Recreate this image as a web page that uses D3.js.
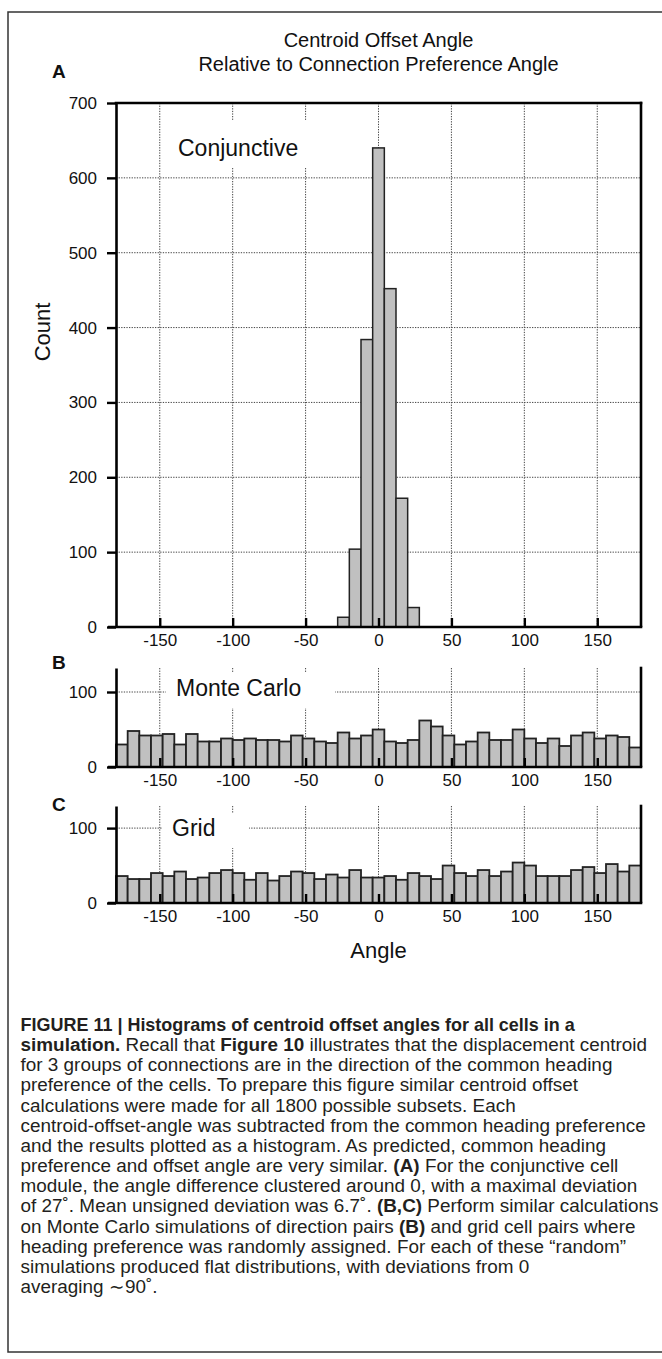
<!DOCTYPE html>
<html><head><meta charset="utf-8">
<script src="https://cdn.jsdelivr.net/npm/d3@7"></script>
<style>body{margin:0;background:#fff}svg{display:block}</style>
</head><body>
<svg id="fig" width="662" height="1359"></svg>
<script>
// ---------- data ----------
const binCenters = [-176,-168,-160,-152,-144,-136,-128,-120,-112,-104,-96,-88,-80,-72,-64,-56,-48,-40,-32,-24,-16,-8,0,8,16,24,32,40,48,56,64,72,80,88,96,104,112,120,128,136,144,152,160,168,176];
const binWidth = 8;
const conjunctive = [0,0,0,0,0,0,0,0,0,0,0,0,0,0,0,0,0,0,0,13,104,384,640,452,172,26,0,0,0,0,0,0,0,0,0,0,0,0,0,0,0,0,0,0,0];
const monteCarlo = [30,48,42,42,44,30,44,34,34,38,36,38,36,36,34,42,38,34,32,46,38,42,50,34,32,36,62,54,42,30,34,46,36,36,50,38,32,38,28,42,46,38,42,40,26];
const gridCells = [36,32,32,40,36,42,32,34,40,44,40,31,40,30,36,42,40,32,38,34,44,34,34,36,31,40,36,32,50,40,36,44,36,42,54,50,36,36,36,44,48,40,52,42,50];
const xTicks = [-150,-100,-50,0,50,100,150];
const yTicksA = [0,100,200,300,400,500,600,700];
const yTicksBC = [0,100];
const titleLines = ["Centroid Offset Angle","Relative to Connection Preference Angle"];
const captionLines = [
  [["FIGURE 11 | Histograms of centroid offset angles for all cells in a",1]],
  [["simulation.",1],[" Recall that ",0],["Figure 10",1],[" illustrates that the displacement centroid",0]],
  [["for 3 groups of connections are in the direction of the common heading",0]],
  [["preference of the cells. To prepare this figure similar centroid offset",0]],
  [["calculations were made for all 1800 possible subsets. Each",0]],
  [["centroid-offset-angle was subtracted from the common heading preference",0]],
  [["and the results plotted as a histogram. As predicted, common heading",0]],
  [["preference and offset angle are very similar. ",0],["(A)",1],[" For the conjunctive cell",0]],
  [["module, the angle difference clustered around 0, with a maximal deviation",0]],
  [["of 27\u02DA. Mean unsigned deviation was 6.7\u02DA. ",0],["(B,C)",1],[" Perform similar calculations",0]],
  [["on Monte Carlo simulations of direction pairs ",0],["(B)",1],[" and grid cell pairs where",0]],
  [["heading preference was randomly assigned. For each of these \u201Crandom\u201D",0]],
  [["simulations produced flat distributions, with deviations from 0",0]],
  [["averaging \u223C90\u02DA.",0]]
];
// right ends of the longest caption lines (used to set the common condensation)
const captionFitLines = [5,8,9,10];
const captionFitEnds = [649,642,653,634];
const captionHeadEnd = 575;

// ---------- layout ----------
const FONT = "'Liberation Sans', Arial, Helvetica, sans-serif";
const svg = d3.select("#fig");
svg.append("rect").attr("width",662).attr("height",1359).attr("fill","#fff");
svg.append("rect").attr("x",8).attr("y",12).attr("width",700).attr("height",1340)
  .attr("fill","none").attr("stroke","#333").attr("stroke-width",1.5);

const x = d3.scaleLinear().domain([-180,180]).range([116,641]);

svg.append("g").selectAll("text").data(titleLines).join("text")
  .attr("x",378.5).attr("y",(d,i)=>47+i*24).attr("text-anchor","middle")
  .attr("font-family",FONT).attr("font-size",20).attr("fill","#111").text(d=>d);

const panels = [
  {letter:"A", letterY:78, top:103, bottom:627, ymax:700, ticks:yTicksA, values:conjunctive,
   label:"Conjunctive", lx:178, ly:156, box:[165,120,148,48], topBorder:true},
  {letter:"B", letterY:669, top:668, bottom:767, ymax:132, ticks:yTicksBC, values:monteCarlo,
   label:"Monte Carlo", lx:176, ly:696, box:[166,673,169,35], topBorder:false},
  {letter:"C", letterY:811, top:806, bottom:903, ymax:129.5, ticks:yTicksBC, values:gridCells,
   label:"Grid", lx:172, ly:836, box:[162,813,87,35], topBorder:false}
];

panels.forEach(p => {
  const y = d3.scaleLinear().domain([0,p.ymax]).range([p.bottom,p.top]);
  const g = svg.append("g");
  g.append("g").selectAll("line").data(xTicks).join("line")
    .attr("x1",d=>x(d)).attr("x2",d=>x(d)).attr("y1",p.top).attr("y2",p.bottom)
    .attr("stroke","#444").attr("stroke-width",1).attr("stroke-dasharray","1.3,1.3");
  g.append("g").selectAll("line").data(p.ticks.filter(t=>t>0 && t<p.ymax)).join("line")
    .attr("x1",x(-180)).attr("x2",x(180)).attr("y1",d=>y(d)).attr("y2",d=>y(d))
    .attr("stroke","#444").attr("stroke-width",1).attr("stroke-dasharray","1.3,1.3");
  g.append("rect").attr("x",p.box[0]).attr("y",p.box[1]).attr("width",p.box[2]).attr("height",p.box[3]).attr("fill","#fff");
  g.append("text").attr("x",p.lx).attr("y",p.ly).attr("font-family",FONT).attr("font-size",23)
    .attr("fill","#111").text(p.label);
  const data = binCenters.map((c,i)=>({c, v:p.values[i]})).filter(d=>d.v>0);
  g.append("g").selectAll("rect").data(data).join("rect")
    .attr("x",d=>x(d.c-binWidth/2)).attr("width",d=>x(d.c+binWidth/2)-x(d.c-binWidth/2))
    .attr("y",d=>y(d.v)).attr("height",d=>p.bottom-y(d.v))
    .attr("fill","#c0c0c0").attr("stroke","#222").attr("stroke-width",p.topBorder?1.5:1.8);
  const ya = d3.axisLeft(y).tickValues(p.ticks).tickFormat(d=>String(d)).tickSize(9).tickSizeOuter(0).tickPadding(10);
  const yg = g.append("g").attr("transform",`translate(${x(-180)},0)`).call(ya);
  yg.select(".domain").attr("stroke","#000").attr("stroke-width",2.6);
  yg.selectAll(".tick line").attr("stroke","#000").attr("stroke-width",2.4);
  yg.selectAll("text").attr("font-family",FONT).attr("font-size",17).attr("fill","#111");
  const xa = d3.axisBottom(x).tickValues(xTicks).tickFormat(d=>String(d)).tickSize(-9).tickSizeOuter(0).tickPadding(7);
  const xg = g.append("g").attr("transform",`translate(0,${p.bottom})`).call(xa);
  xg.select(".domain").remove();
  xg.selectAll(".tick line").attr("stroke","#000").attr("stroke-width",2.4);
  xg.selectAll("text").attr("font-family",FONT).attr("font-size",17).attr("fill","#111");
  g.append("line").attr("x1",108).attr("x2",x(180)+1.3).attr("y1",p.bottom).attr("y2",p.bottom)
    .attr("stroke","#000").attr("stroke-width",2.6);
  g.append("line").attr("x1",x(180)).attr("x2",x(180)).attr("y1",p.top-1.3).attr("y2",p.bottom)
    .attr("stroke","#000").attr("stroke-width",2.6);
  if (p.topBorder) g.append("line").attr("x1",x(-180)-1.3).attr("x2",x(180)+1.3).attr("y1",p.top).attr("y2",p.top)
    .attr("stroke","#000").attr("stroke-width",2.6);
  svg.append("text").attr("x",52).attr("y",p.letterY).attr("font-family",FONT).attr("font-weight","bold")
    .attr("font-size",19).attr("fill","#111").text(p.letter);
});

svg.append("text").attr("transform","translate(50,332) rotate(-90)").attr("text-anchor","middle")
  .attr("font-family",FONT).attr("font-size",22).attr("fill","#111").text("Count");
svg.append("text").attr("x",x(0)).attr("y",958).attr("text-anchor","middle")
  .attr("font-family",FONT).attr("font-size",22).attr("fill","#111").text("Angle");

// caption: one common horizontal condensation (bold heading fitted separately)
const x0 = 20.5;
const cap = svg.append("g");
const capLines = cap.selectAll("g").data(captionLines).join("g");
const capText = capLines.append("text").attr("font-family",FONT).attr("font-size",18.5).attr("fill","#231f20");
capText.selectAll("tspan").data(d=>d).join("tspan").attr("font-weight",d=>d[1]?"bold":"normal").text(d=>d[0]);
const widths = capText.nodes().map(n=>n.getComputedTextLength());
const ks = captionFitLines.map((li,j)=>(captionFitEnds[j]-x0)/widths[li]);
const kBody = d3.mean(ks);
const kHead = (captionHeadEnd-x0)/widths[0];
capLines.attr("transform",(d,i)=>`translate(${x0},${1031+i*20.15})scale(${i===0?kHead:kBody},1)`);
</script>
</body></html>
